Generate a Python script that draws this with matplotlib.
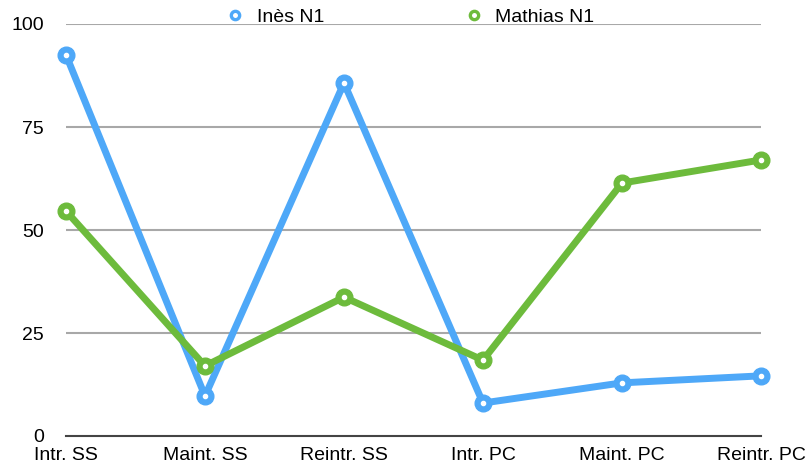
import matplotlib
matplotlib.use("Agg")
import matplotlib.pyplot as plt
from matplotlib.lines import Line2D

# data
categories = ["Intr. SS", "Maint. SS", "Reintr. SS", "Intr. PC", "Maint. PC", "Reintr. PC"]
ines = [92.5, 9.7, 85.7, 8.0, 12.9, 14.6]
mathias = [54.6, 17.0, 33.7, 18.4, 61.4, 67.0]
yticks = [0, 25, 50, 75, 100]

BLUE = "#4ea8f8"
GREEN = "#6dbb3c"

plt.rcParams["font.family"] = ["Liberation Sans", "DejaVu Sans"]

fig = plt.figure(figsize=(8.08, 4.67), dpi=100)
ax = fig.add_axes([66 / 808, 1 - 436 / 467, (761 - 66) / 808, (436 - 24) / 467])

x = list(range(len(categories)))
for vals, col in [(ines, BLUE), (mathias, GREEN)]:
    ax.plot(x, vals, color=col, lw=5, marker="o", ms=12, mfc=col, mec=col,
            solid_joinstyle="round", clip_on=False, zorder=3)
    ax.plot(x, vals, ls="none", marker="o", ms=3, mfc="white", mec="white",
            clip_on=False, zorder=4)

ax.set_xlim(0, len(categories) - 1)
ax.set_ylim(0, 100)
ax.set_yticks(yticks)
ax.set_yticklabels([str(t) for t in yticks], fontsize=14)
ax.set_xticks(x)
ax.set_xticklabels(categories, fontsize=14)
ax.tick_params(axis="y", length=0, pad=16)
ax.tick_params(axis="x", length=0, pad=8)

for t in yticks[1:]:
    ax.axhline(t, color="#a8a8a8", lw=1.5, zorder=1)
for s in ["top", "right", "left"]:
    ax.spines[s].set_visible(False)
ax.spines["bottom"].set_color("#444444")
ax.spines["bottom"].set_linewidth(1.5)

handles = [
    Line2D([], [], ls="none", marker="o", ms=6, mfc="white", mec=BLUE, mew=2.4),
    Line2D([], [], ls="none", marker="o", ms=6, mfc="white", mec=GREEN, mew=2.4),
]
fig.legend(handles, ["Inès N1", "Mathias N1"], ncol=2, frameon=False,
           loc="center", bbox_to_anchor=(410 / 808, 1 - 17 / 467),
           fontsize=14, handletextpad=0.6, columnspacing=7.2, handlelength=1.0,
           borderpad=0)

fig.savefig("out.png", dpi=100)
